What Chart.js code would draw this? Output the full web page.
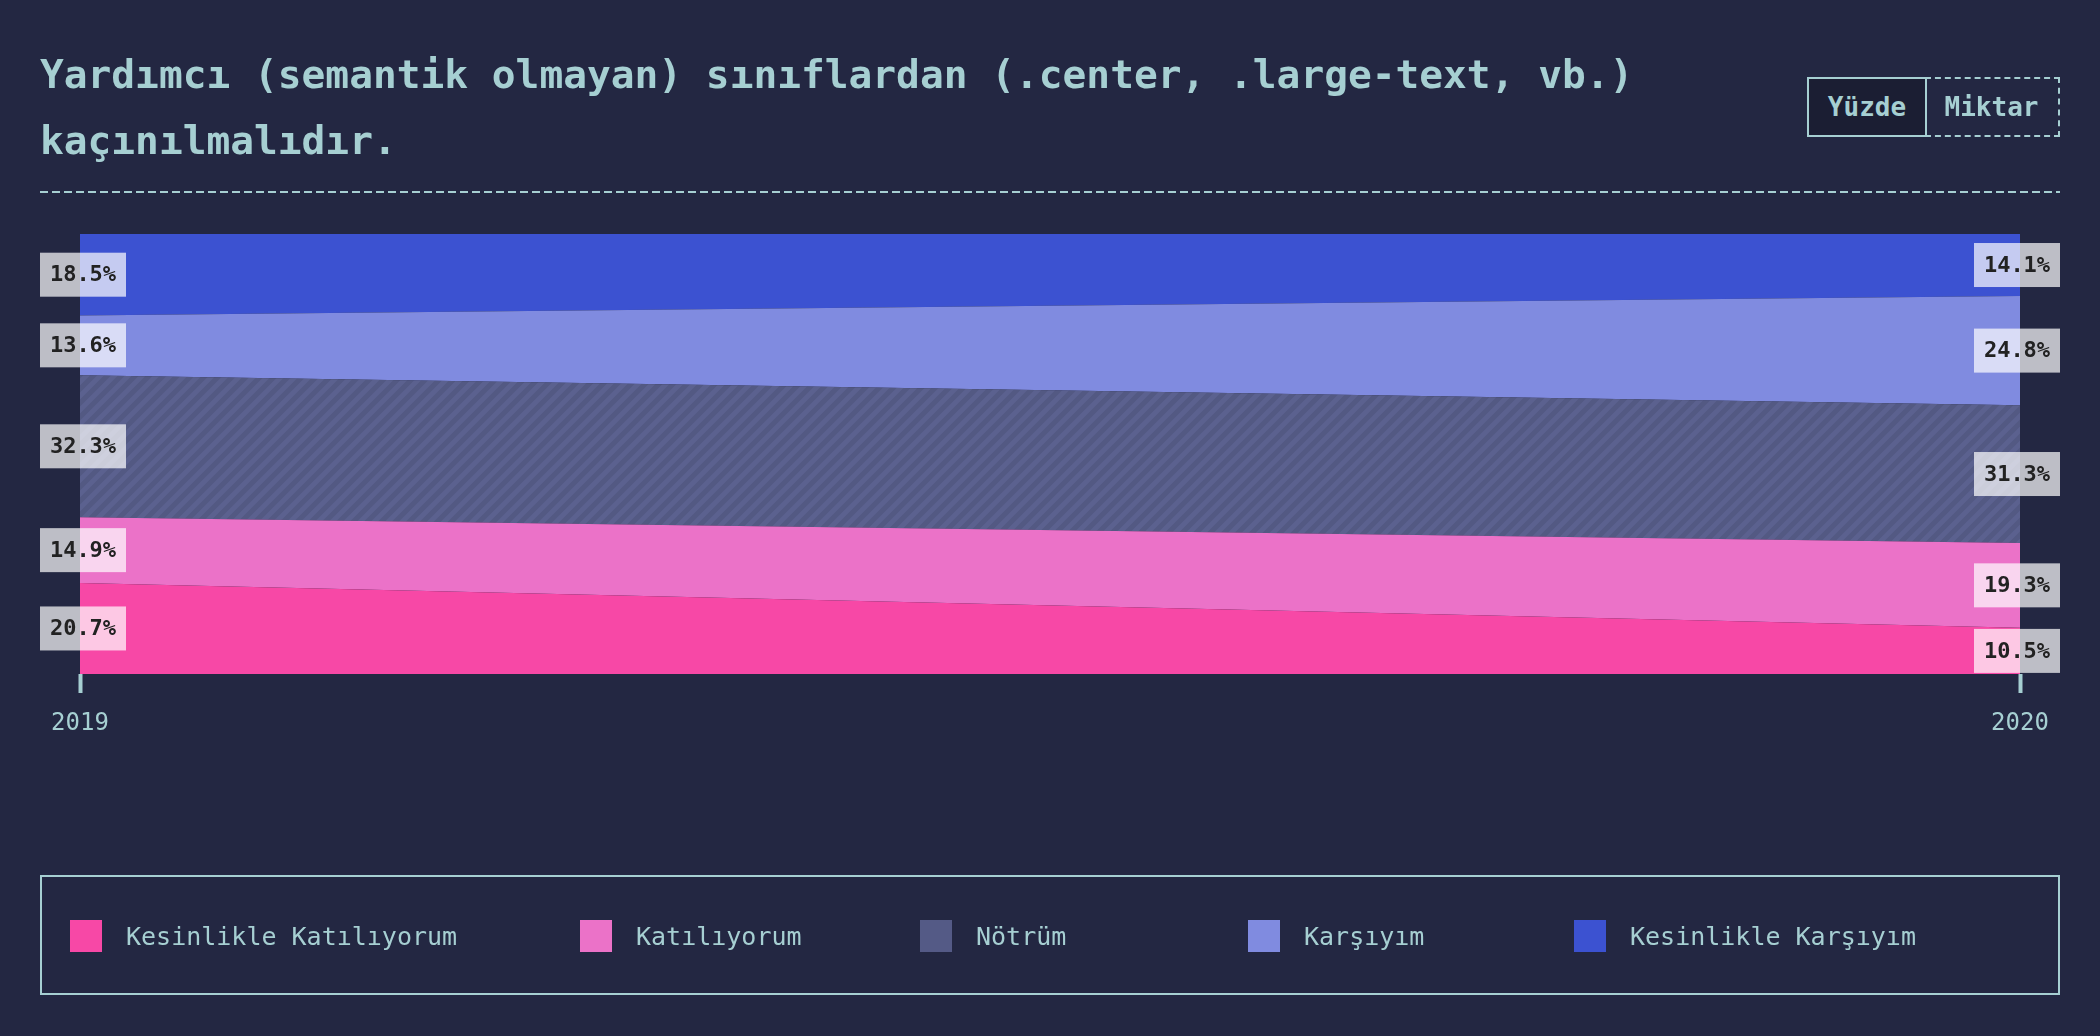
<!DOCTYPE html>
<html>
<head>
<meta charset="utf-8">
<script src="https://cdn.jsdelivr.net/npm/chart.js@4"></script>
<style>
  html, body { margin: 0; padding: 0; background: #232742; }
  body { width: 2100px; height: 1036px; position: relative; overflow: hidden; font-family: "DejaVu Sans Mono", monospace; color: #a6cfd2; }
  #c { position: absolute; left: 0; top: 0; }
  #title { position: absolute; left: 40px; top: 41px; width: 1700px; font-size: 39.5px; font-weight: bold; line-height: 66px; color: #a6cfd2; }
  #rule { position: absolute; left: 40px; top: 191px; width: 2020px; height: 2px;
          background: repeating-linear-gradient(to right, #a6cfd2 0 8px, transparent 8px 12px); }
  .tog { position: absolute; top: 77px; height: 60px; box-sizing: border-box; font-size: 26px; font-weight: bold;
         display: flex; align-items: center; justify-content: center; color: #a6cfd2; }
  #t1 { left: 1807px; width: 120px; border: 2px solid #a6cfd2; background: #1b1e33; }
  #t2 { left: 1925px; width: 135px; border: 2px dashed #a6cfd2; border-left: none; }
  #legend { position: absolute; left: 40px; top: 875px; width: 2020px; height: 120px; box-sizing: border-box; border: 2px solid #a6cfd2; }
  .li { position: absolute; top: 43px; height: 32px; display: flex; align-items: center; font-size: 25px; white-space: nowrap; }
  .sw { width: 32px; height: 32px; margin-right: 24px; flex: none; }
</style>
</head>
<body>
<canvas id="c" width="2100" height="1036"></canvas>
<div id="title">Yardımcı (semantik olmayan) sınıflardan (.center, .large-text, vb.) kaçınılmalıdır.</div>
<div class="tog" id="t1">Yüzde</div>
<div class="tog" id="t2">Miktar</div>
<div id="rule"></div>
<div id="legend"></div>
<script>
// ---- data ----
const years = ["2019", "2020"];
const seriesNames = ["Kesinlikle Katılıyorum", "Katılıyorum", "Nötrüm", "Karşıyım", "Kesinlikle Karşıyım"];
const kesinlikleKatiliyorum = [20.7, 10.5];
const katiliyorum = [14.9, 19.3];
const notrum = [32.3, 31.3];
const karsiyim = [13.6, 24.8];
const kesinlikleKarsiyim = [18.5, 14.1];

// ---- styles ----
const seriesColors = ["#f748a6", "#eb72c8", "#545a86", "#808be0", "#3c52d1"];
const legendLefts = [28, 538, 878, 1206, 1532];
const TEAL = "#a6cfd2";

function hatch(base, stripe) {
  const s = 14;
  const c = document.createElement("canvas");
  c.width = s; c.height = s;
  const g = c.getContext("2d");
  g.fillStyle = base; g.fillRect(0, 0, s, s);
  g.strokeStyle = stripe; g.lineWidth = 5;
  g.beginPath();
  g.moveTo(-2, s + 2); g.lineTo(s + 2, -2);
  g.moveTo(-s - 2, s + 2); g.lineTo(s + 2, -s - 2);
  g.moveTo(-2, 2 * s + 2); g.lineTo(2 * s + 2, -2);
  g.stroke();
  return g.createPattern(c, "repeat");
}

const allValues = [kesinlikleKatiliyorum, katiliyorum, notrum, karsiyim, kesinlikleKarsiyim];
const fills = seriesColors.map((c, i) => i === 2 ? hatch("#535983", "#5b618f") : c);

// legend
const leg = document.getElementById("legend");
seriesNames.forEach((n, i) => {
  const d = document.createElement("div");
  d.className = "li";
  d.style.left = legendLefts[i] + "px";
  d.innerHTML = '<span class="sw" style="background:' + seriesColors[i] + '"></span><span>' + n + '</span>';
  leg.appendChild(d);
});

const labelPlugin = {
  id: "bandLabels",
  afterDatasetsDraw(chart) {
    const ctx = chart.ctx;
    const yScale = chart.scales.y;
    ctx.save();
    ctx.font = "bold 22px 'DejaVu Sans Mono'";
    ctx.textAlign = "center";
    ctx.textBaseline = "middle";
    chart.data.datasets.forEach((ds, di) => {
      const meta = chart.getDatasetMeta(di);
      meta.data.forEach((pt, i) => {
        const top = pt.y;
        const bottom = di === 0 ? yScale.getPixelForValue(0) : chart.getDatasetMeta(di - 1).data[i].y;
        const cy = (top + bottom) / 2;
        const first = i === 0;
        const bx = first ? pt.x - 40 : pt.x - 46;
        ctx.fillStyle = "rgba(255,255,255,0.7)";
        ctx.fillRect(bx, cy - 22, 86, 44);
        ctx.fillStyle = "#222222";
        ctx.fillText(ds.data[i].toFixed(1) + "%", bx + 43, cy + 1);
      });
    });
    ctx.restore();
  }
};

new Chart(document.getElementById("c"), {
  type: "line",
  data: {
    labels: years,
    datasets: seriesNames.map((n, i) => ({
      label: n,
      data: allValues[i],
      backgroundColor: fills[i],
      borderColor: seriesColors[i],
      borderWidth: 0,
      pointRadius: 0,
      tension: 0,
      fill: i === 0 ? "origin" : "-1"
    }))
  },
  options: {
    responsive: false,
    animation: false,
    devicePixelRatio: 1,
    layout: { padding: { left: 80, right: 80, top: 234, bottom: 302 } },
    plugins: { legend: { display: false }, tooltip: { enabled: false } },
    scales: {
      y: { display: false, stacked: true, min: 0, max: 100 },
      x: {
        offset: false,
        afterFit: (s) => { s.height = 60; },
        border: { display: false },
        grid: { drawOnChartArea: false, drawTicks: true, tickLength: 19, tickWidth: 4, tickColor: TEAL, color: TEAL },
        ticks: { color: TEAL, font: { family: "DejaVu Sans Mono", size: 24 }, padding: 16, maxRotation: 0, autoSkip: false }
      }
    }
  },
  plugins: [labelPlugin]
});
</script>
</body>
</html>
